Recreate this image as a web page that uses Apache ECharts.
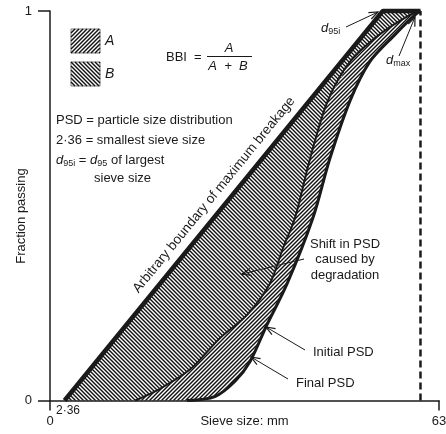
<!DOCTYPE html>
<html>
<head>
<meta charset="utf-8">
<script src="https://cdn.jsdelivr.net/npm/echarts@6/dist/echarts.min.js"></script>
<style>
  html, body { margin: 0; padding: 0; background: #fff; }
  #chart { width: 446px; height: 434px; }
</style>
</head>
<body>
<div id="chart"></div>
<script>
// sieve size (mm) against fraction passing
const boundaryX = [2.36, 53.9, 60];
const boundaryY = [0, 1, 1];
const finalX = [13.8, 17.8, 22.7, 27.5, 31.9, 35.6, 37.7, 39.7, 42.1, 45.0, 48.6, 53.4, 58.3, 60];
const finalY = [0, 0.03, 0.08, 0.16, 0.22, 0.30, 0.39, 0.47, 0.62, 0.77, 0.87, 0.94, 0.99, 1];
const initialX = [22.2, 26.7, 30.0, 32.4, 35.0, 38.4, 42.6, 45.3, 48.6, 51.8, 55.9, 59.1, 60];
const initialY = [0, 0.01, 0.05, 0.10, 0.19, 0.30, 0.47, 0.62, 0.77, 0.87, 0.94, 0.99, 1];
const dMax = 60;
const xTicks = [0, 63];
const yTicks = [0, 1];

const FONT = '"Liberation Sans", Arial, sans-serif';
const INK = '#1a1a1a';
const STEP = 4;      // hatch period along x, whole pixels
const HW = 1.42;     // hatch line width

const zip = (xs, ys) => xs.map((x, i) => [x, ys[i]]);

// hatch lines covering a box, dir 1 = "////", dir -1 = "\\\\"
function hatchLines(x0, y0, x1, y1, dir) {
  x0 = Math.floor(x0); y0 = Math.floor(y0); x1 = Math.ceil(x1); y1 = Math.ceil(y1);
  const h = y1 - y0, out = [];
  for (let c = x0 - h - STEP; c <= x1 + STEP; c += STEP) {
    const shape = dir > 0
      ? { x1: c, y1: y1, x2: c + h, y2: y0 }
      : { x1: c, y1: y0, x2: c + h, y2: y1 };
    out.push({ type: 'line', silent: true, shape: shape, style: { stroke: '#111', lineWidth: HW } });
  }
  return out;
}

// hatched area between two curves, drawn through the axes
function region(xsA, ysA, xsB, ysB, dir) {
  return {
    type: 'custom',
    silent: true,
    data: [[0, 0]],
    z: 1,
    renderItem: (params, api) => {
      const pts = [];
      xsA.forEach((x, i) => pts.push(api.coord([x, ysA[i]])));
      for (let i = xsB.length - 1; i >= 0; i--) pts.push(api.coord([xsB[i], ysB[i]]));
      const px = pts.map(p => p[0]), py = pts.map(p => p[1]);
      return {
        type: 'group',
        children: hatchLines(Math.min(...px), Math.min(...py), Math.max(...px), Math.max(...py), dir),
        clipPath: { type: 'polygon', shape: { points: pts } }
      };
    }
  };
}

// small legend swatch, hatch segments cut to the square
function swatch(x, y, w, h, dir) {
  const kids = [{ type: 'rect', shape: { x: x, y: y, width: w, height: h }, style: { fill: '#fff', stroke: '#777', lineWidth: 1 } }];
  for (let c = -h; c <= w + h; c += STEP) {
    let a, b;
    if (dir > 0) { a = Math.max(0, c - h); b = Math.min(w, c); }
    else { a = Math.max(0, c); b = Math.min(w, c + h); }
    if (b <= a) continue;
    const ya = dir > 0 ? c - a : a - c, yb = dir > 0 ? c - b : b - c;
    kids.push({ type: 'line', shape: { x1: x + a, y1: y + ya, x2: x + b, y2: y + yb }, style: { stroke: '#111', lineWidth: HW } });
  }
  return { type: 'group', silent: true, children: kids };
}

function curve(xs, ys, width, smooth) {
  return {
    type: 'line',
    data: zip(xs, ys),
    showSymbol: false,
    smooth: smooth,
    clip: false,
    silent: true,
    z: 3,
    lineStyle: { color: INK, width: width }
  };
}

function txt(x, y, text, extra) {
  return {
    type: 'text', x: x, y: y, silent: true, z: 10,
    style: Object.assign({ text: text, fill: INK, font: '13px ' + FONT, verticalAlign: 'middle' }, extra || {})
  };
}

function arrow(x1, y1, x2, y2) {
  const a = Math.atan2(y2 - y1, x2 - x1), L = 9, W = 3.5;
  const bx = x2 - L * Math.cos(a), by = y2 - L * Math.sin(a);
  return [
    { type: 'line', silent: true, z: 10, shape: { x1, y1, x2, y2 }, style: { stroke: INK, lineWidth: 1 } },
    { type: 'polyline', silent: true, z: 10,
      shape: { points: [[bx + W * Math.sin(a), by - W * Math.cos(a)], [x2, y2], [bx - W * Math.sin(a), by + W * Math.cos(a)]] },
      style: { stroke: INK, lineWidth: 1.2, fill: null } }
  ];
}

const subRich = {
  i: { fontStyle: 'italic', fontSize: 13, fontFamily: FONT, fill: INK },
  s: { fontSize: 9, fontFamily: FONT, fill: INK, padding: [7, 0, 0, 0] },
  n: { fontSize: 13, fontFamily: FONT, fill: INK }
};

const chart = echarts.init(document.getElementById('chart'), null, { renderer: 'canvas' });

chart.setOption({
  animation: false,
  grid: { left: 50, right: 7, top: 11, bottom: 33.5, outerBoundsMode: 'none', containLabel: false },
  xAxis: {
    type: 'value', min: xTicks[0], max: xTicks[1], interval: xTicks[1] - xTicks[0],
    name: 'Sieve size: mm', nameLocation: 'middle', nameGap: 14, nameMoveOverlap: false,
    nameTextStyle: { color: INK, fontSize: 13, fontFamily: FONT },
    axisLine: { onZero: false, lineStyle: { color: INK, width: 1.5 } },
    axisTick: { show: true, length: 10, lineStyle: { color: INK, width: 1.5 } },
    axisLabel: { color: INK, fontSize: 13, fontFamily: FONT, margin: 14 },
    splitLine: { show: false }
  },
  yAxis: {
    type: 'value', min: yTicks[0], max: yTicks[1], interval: yTicks[1] - yTicks[0],
    axisLine: { show: true, onZero: false, lineStyle: { color: INK, width: 1.5 } },
    axisTick: { show: true, length: 12, lineStyle: { color: INK, width: 1.5 } },
    axisLabel: { color: INK, fontSize: 13, fontFamily: FONT, margin: 18 },
    splitLine: { show: false }
  },
  series: [
    region(boundaryX, boundaryY, finalX, finalY, -1),
    region(finalX, finalY, initialX, initialY, 1),
    curve(boundaryX, boundaryY, 4.5, false),
    curve(finalX, finalY, 2, 0.3),
    curve(initialX, initialY, 3, 0.3),
    {
      type: 'line', data: [[dMax, 0], [dMax, 1]], showSymbol: false, silent: true, z: 2,
      lineStyle: { color: INK, width: 2.5, type: [7, 4] }
    }
  ],
  graphic: [
    {
      type: 'text', x: 21, y: 216, rotation: Math.PI / 2, silent: true,
      style: { text: 'Fraction passing', fill: INK, font: '13px ' + FONT, align: 'center', verticalAlign: 'middle' }
    },
    swatch(71, 29, 29, 24, 1),
    swatch(71, 62, 29, 24, -1),
    txt(105, 41, 'A', { font: 'italic 14px ' + FONT }),
    txt(105, 74, 'B', { font: 'italic 14px ' + FONT }),
    txt(166, 57, 'BBI', { font: '13px ' + FONT }),
    txt(194, 57, '=', { font: '13px ' + FONT }),
    txt(229, 48, 'A', { font: 'italic 13px ' + FONT, align: 'center' }),
    { type: 'line', silent: true, shape: { x1: 207, y1: 56.5, x2: 252, y2: 56.5 }, style: { stroke: INK, lineWidth: 1 } },
    txt(228, 66, 'A  +  B', { font: 'italic 13px ' + FONT, align: 'center' }),
    txt(56, 120, 'PSD = particle size distribution'),
    txt(56, 140, '2·36 = smallest sieve size'),
    { type: 'text', x: 56, y: 160, silent: true,
      style: { text: '{i|d}{s|95i}{n| = }{i|d}{s|95}{n| of largest}', rich: subRich, verticalAlign: 'middle' } },
    txt(94, 178, 'sieve size'),
    { type: 'text', x: 321, y: 28, silent: true,
      style: { text: '{i|d}{s|95i}', rich: subRich, verticalAlign: 'middle' } },
    { type: 'text', x: 386, y: 60, silent: true,
      style: { text: '{i|d}{s|max}', rich: subRich, verticalAlign: 'middle' } },
    {
      type: 'text', x: 214, y: 195, rotation: 50.8 * Math.PI / 180, silent: true, z: 10,
      style: { text: 'Arbitrary boundary of maximum breakage', fill: INK, font: '13.5px ' + FONT, align: 'center', verticalAlign: 'middle' }
    },
    txt(345, 244, 'Shift in PSD', { align: 'center' }),
    txt(345, 259, 'caused by', { align: 'center' }),
    txt(345, 275, 'degradation', { align: 'center' }),
    txt(313, 352, 'Initial PSD'),
    txt(296, 383, 'Final PSD'),
    txt(56, 411, '2·36', { font: '12px ' + FONT }),
    ...arrow(346, 27, 378, 12),
    ...arrow(399, 56, 415, 17),
    ...arrow(304, 259, 242, 274),
    ...arrow(305, 350, 266, 327),
    ...arrow(288, 379, 251, 357)
  ]
});
</script>
</body>
</html>
